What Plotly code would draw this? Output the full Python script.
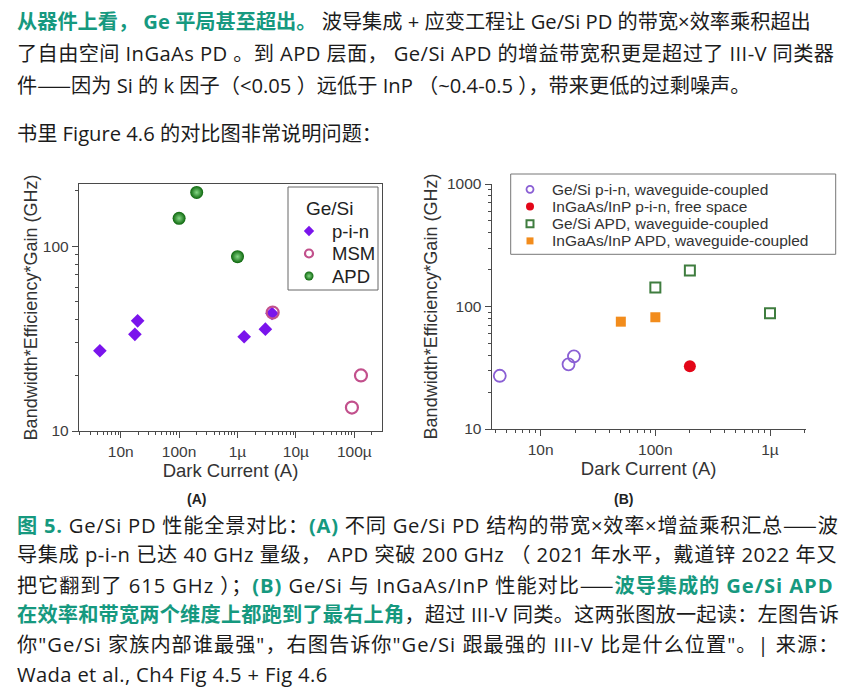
import plotly.graph_objects as go

# ---------------- data ----------------
# Panel A : Ge/Si photodetectors (Fig 4.5)
a_pin_current = [4.4e-9, 1.75e-8, 1.95e-8, 1.3e-6, 3.0e-6, 3.9e-6]
a_pin_bwg = [27.2, 33.4, 39.5, 32.4, 35.6, 43.3]
a_msm_current = [4.0e-6, 9.1e-5, 1.3e-4]
a_msm_bwg = [43.8, 13.4, 20.0]
a_apd_current = [1.0e-7, 2.0e-7, 1.0e-6]
a_apd_bwg = [142, 196, 88]

# Panel B : Ge/Si vs InGaAs/InP (Fig 4.6)
b_gesi_pin_current = [4.4e-9, 1.75e-8, 1.95e-8]
b_gesi_pin_bwg = [27.2, 33.7, 39.2]
b_ingaas_pin_current = [2.0e-7]
b_ingaas_pin_bwg = [32.5]
b_gesi_apd_current = [1.0e-7, 2.0e-7, 1.0e-6]
b_gesi_apd_bwg = [142.6, 197, 88]
b_ingaas_apd_current = [5.0e-8, 1.0e-7]
b_ingaas_apd_bwg = [75.2, 81.7]

# tick labels
a_x_tickvals = [1e-8, 1e-7, 1e-6, 1e-5, 1e-4]
a_x_ticktext = ["10n", "100n", "1µ", "10µ", "100µ"]
a_y_tickvals = [10, 100]
a_y_ticktext = ["10", "100"]
b_x_tickvals = [1e-8, 1e-7, 1e-6]
b_x_ticktext = ["10n", "100n", "1µ"]
b_y_tickvals = [10, 100, 1000]
b_y_ticktext = ["10", "100", "1000"]

# legend labels
a_legend_title = "Ge/Si"
a_legend_names = ["p-i-n", "MSM", "APD"]
b_legend_names = ["Ge/Si p-i-n, waveguide-coupled", "InGaAs/InP p-i-n, free space",
                  "Ge/Si APD, waveguide-coupled", "InGaAs/InP APD, waveguide-coupled"]

x_title = "Dark Current (A)"
y_title = "Bandwidth*Efficiency*Gain (GHz)"

# ---------------- text ----------------
TEAL = "#16997f"
TXT = "#1b1b1b"
CJKF = "Noto Sans CJK SC"


def hl(s):
    return f"<b><span style='color:{TEAL}'>{s}</span></b>"


DASH = f"<span style='font-family:{CJKF}'>——</span>"

top_lines = [
    hl("从器件上看， Ge 平局甚至超出。") + " 波导集成 + 应变工程让 Ge/Si PD 的带宽×效率乘积超出",
    "了自由空间 InGaAs PD 。到 APD 层面， Ge/Si APD 的增益带宽积更是超过了 III-V 同类器",
    "件" + DASH + "因为 Si 的 k 因子（<0.05 ）远低于 InP （~0.4-0.5 ），带来更低的过剩噪声。",
    "书里 Figure 4.6 的对比图非常说明问题：",
]
top_y = [21, 53, 85, 133]

caption_lines = [
    hl("图 5.") + " Ge/Si PD 性能全景对比：" + hl("(A)") + " 不同 Ge/Si PD 结构的带宽×效率×增益乘积汇总" + DASH + "波",
    "导集成 p-i-n 已达 40 GHz 量级， APD 突破 200 GHz （ 2021 年水平，戴道锌 2022 年又",
    "把它翻到了 615 GHz ）；" + hl("(B)") + " Ge/Si 与 InGaAs/InP 性能对比" + DASH + hl("波导集成的 Ge/Si APD"),
    hl("在效率和带宽两个维度上都跑到了最右上角") + "，超过 III-V 同类。这两张图放一起读：左图告诉",
    "你\"Ge/Si 家族内部谁最强\"，右图告诉你\"Ge/Si 跟最强的 III-V 比是什么位置\"。| 来源：",
    "Wada et al., Ch4 Fig 4.5 + Fig 4.6",
]
caption_y = [524, 554, 584, 614, 644, 674]

# per-line letter spacing (px) to mimic the justified paragraph layout
top_spacing = [0, 0.4, 0, 0]
caption_spacing = [0.75, 0.53, 0.92, 0.2, 1.0, 0.35]

W, H = 844, 698
BODY = "Open Sans, Noto Sans CJK SC, sans-serif"
ARIAL = "Liberation Sans, Arial, sans-serif"
AX = "#4a4a4a"


def px(v):
    return v / W


def py(v):
    return 1 - v / H


# marker styles (shared by data and legend swatches)
sty_a = [
    dict(symbol="diamond", color="#7a14ec", line=dict(width=0)),
    dict(symbol="circle-open", color="#c2508c", line=dict(width=2.2)),
    dict(symbol="circle", color="#0b650b", gradient=dict(type="radial", color="#86d886"), line=dict(width=0)),
]
size_a = [10.5, 12, 13]
leg_size_a = [8, 8, 9]
sty_b = [
    dict(symbol="circle-open", color="#8a5fd4", line=dict(width=1.8)),
    dict(symbol="circle", color="#e30618", line=dict(width=0)),
    dict(symbol="square-open", color="#3f7d3f", line=dict(width=2)),
    dict(symbol="square", color="#f28c1c", line=dict(width=0)),
]
size_b = [12, 12, 10, 10]
leg_size_b = [7, 8, 7, 7]

fig = go.Figure()

# ---- Panel A traces ----
for name, xs, ys, st, sz in zip(a_legend_names,
                                [a_pin_current, a_msm_current, a_apd_current],
                                [a_pin_bwg, a_msm_bwg, a_apd_bwg], sty_a, size_a):
    fig.add_trace(go.Scatter(x=xs, y=ys, mode="markers", name=name,
                             marker=dict(size=sz, **st), xaxis="x", yaxis="y", showlegend=False))

# ---- Panel B traces ----
for name, xs, ys, st, sz in zip(b_legend_names,
                                [b_gesi_pin_current, b_ingaas_pin_current, b_gesi_apd_current, b_ingaas_apd_current],
                                [b_gesi_pin_bwg, b_ingaas_pin_bwg, b_gesi_apd_bwg, b_ingaas_apd_bwg],
                                sty_b, size_b):
    fig.add_trace(go.Scatter(x=xs, y=ys, mode="markers", name=name,
                             marker=dict(size=sz, **st), xaxis="x2", yaxis="y2", showlegend=False))


def minor_vals(e0, e1):
    return [k * 10.0 ** e for e in range(e0, e1) for k in range(2, 10)]


def axis_common(tickvals, ticktext, minor_tv, mirror):
    return dict(
        type="log", showgrid=False, zeroline=False, automargin=False,
        showline=True, linecolor=AX, linewidth=1.4, mirror=mirror,
        ticks="outside", ticklen=6, tickwidth=1.2, tickcolor=AX,
        tickmode="array", tickvals=tickvals, ticktext=ticktext,
        tickfont=dict(family=ARIAL, size=15.5, color="#3c3c3c"),
        minor=dict(ticks="outside", ticklen=3, tickwidth=1, tickcolor=AX,
                   tickmode="array", tickvals=minor_tv, showgrid=False),
    )


xa = axis_common(a_x_tickvals, a_x_ticktext, minor_vals(-9, -3), True)
xa.update(domain=[px(79), px(382)], range=[-8.714, -3.526], anchor="y",
          title=dict(text=x_title, font=dict(family=ARIAL, size=18.5, color="#333"), standoff=3))
ya = axis_common(a_y_tickvals, a_y_ticktext, minor_vals(1, 3), True)
ya.update(domain=[py(431), py(184)], range=[1, 2.338], anchor="x",
          title=dict(text=y_title, font=dict(family=ARIAL, size=18, color="#333"), standoff=0))

xb = axis_common(b_x_tickvals, b_x_ticktext, minor_vals(-9, -5), False)
xb.update(domain=[px(491.7), px(805.7)], range=[-8.427, -5.689], anchor="y2",
          title=dict(text=x_title, font=dict(family=ARIAL, size=18.5, color="#333"), standoff=3))
yb = axis_common(b_y_tickvals, b_y_ticktext, minor_vals(1, 3), False)
yb.update(domain=[py(429), py(184)], range=[1, 3], anchor="x2",
          title=dict(text=y_title, font=dict(family=ARIAL, size=18, color="#333"), standoff=4))

# overlay axes in page pixels for the legend swatches
xo = dict(domain=[0, 1], range=[0, W], visible=False, fixedrange=True, anchor="y3")
yo = dict(domain=[0, 1], range=[H, 0], visible=False, fixedrange=True, anchor="x3")

annotations = []
shapes = []

# ---- legend A (boxed, titled) ----
LA = dict(x0=288, x1=378, y0=187, y1=290, title_y=208, row0=231, step=22.5, mx=309, tx=330)
shapes.append(dict(type="rect", xref="paper", yref="paper", layer="below",
                   x0=px(LA["x0"]), x1=px(LA["x1"]), y0=py(LA["y1"]), y1=py(LA["y0"]),
                   line=dict(color="#666", width=1), fillcolor="white"))
annotations.append(dict(text=a_legend_title, x=px((LA["x0"] + LA["x1"]) / 2 - 3), y=py(LA["title_y"]),
                        xref="paper", yref="paper", xanchor="center", yanchor="middle", showarrow=False,
                        font=dict(family=ARIAL, size=19, color="#222")))
for i, (name, st, sz) in enumerate(zip(a_legend_names, sty_a, leg_size_a)):
    yy = LA["row0"] + i * LA["step"]
    fig.add_trace(go.Scatter(x=[LA["mx"]], y=[yy], mode="markers", marker=dict(size=sz, **st),
                             xaxis="x3", yaxis="y3", showlegend=False, hoverinfo="skip"))
    annotations.append(dict(text=name, x=px(LA["tx"]), y=py(yy), xref="paper", yref="paper",
                            xanchor="left", yanchor="middle", showarrow=False,
                            font=dict(family=ARIAL, size=18.5, color="#222")))

# ---- legend B (boxed) ----
LB = dict(x0=510.7, x1=835.7, y0=174, y1=254.3, row0=189.3, step=17.2, mx=530, tx=550)
shapes.append(dict(type="rect", xref="paper", yref="paper", layer="below",
                   x0=px(LB["x0"]), x1=px(LB["x1"]), y0=py(LB["y1"]), y1=py(LB["y0"]),
                   line=dict(color="#777", width=1), fillcolor="white"))
for i, (name, st, sz) in enumerate(zip(b_legend_names, sty_b, leg_size_b)):
    yy = LB["row0"] + i * LB["step"]
    fig.add_trace(go.Scatter(x=[LB["mx"]], y=[yy], mode="markers", marker=dict(size=sz, **st),
                             xaxis="x3", yaxis="y3", showlegend=False, hoverinfo="skip"))
    annotations.append(dict(text=name, x=px(LB["tx"]), y=py(yy), xref="paper", yref="paper",
                            xanchor="left", yanchor="middle", showarrow=False,
                            font=dict(family=ARIAL, size=15.5, color="#333")))

# ---- article text ----
for txt, yy, ls in zip(top_lines + caption_lines, top_y + caption_y, top_spacing + caption_spacing):
    if ls:
        txt = f"<span style='letter-spacing:{ls}px'>{txt}</span>"
    annotations.append(dict(text=txt, x=px(15), y=py(yy), xref="paper", yref="paper",
                            xanchor="left", yanchor="middle", showarrow=False,
                            font=dict(family=BODY, size=20.2, color=TXT)))
for lab, xx in (("(A)", 196), ("(B)", 623)):
    annotations.append(dict(text=f"<b>{lab}</b>", x=px(xx), y=py(499), xref="paper", yref="paper",
                            xanchor="center", yanchor="middle", showarrow=False,
                            font=dict(family=ARIAL, size=14, color="#222")))

fig.update_layout(
    width=W, height=H, margin=dict(l=0, r=0, t=0, b=0, pad=0), autosize=False,
    paper_bgcolor="white", plot_bgcolor="rgba(0,0,0,0)",
    xaxis=xa, yaxis=ya, xaxis2=xb, yaxis2=yb, xaxis3=xo, yaxis3=yo,
    showlegend=False,
    annotations=annotations,
    shapes=shapes,
)

fig.write_html("out.html", config={"displayModeBar": False},
               post_script="document.body.style.margin='0';document.body.style.padding='0';")
